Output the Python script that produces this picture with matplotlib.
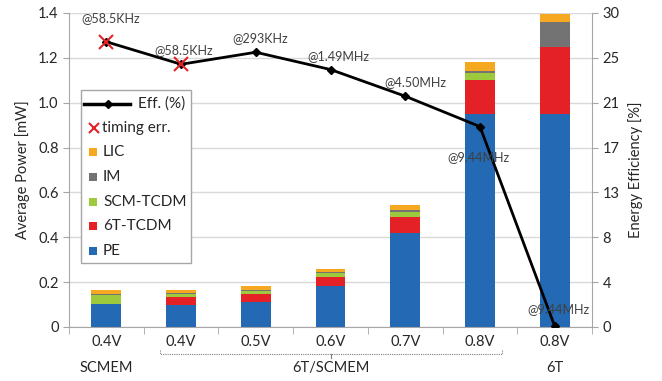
import matplotlib
matplotlib.use("Agg")
import matplotlib.pyplot as plt
import numpy as np
from matplotlib.lines import Line2D
from matplotlib.patches import Rectangle

plt.rcParams['font.family'] = ['Lato', 'DejaVu Sans']

volt_labels = ["0.4V", "0.4V", "0.5V", "0.6V", "0.7V", "0.8V", "0.8V"]
pe = [0.103, 0.100, 0.113, 0.181, 0.418, 0.951, 0.951]
t6_tcdm = [0.0, 0.033, 0.034, 0.042, 0.074, 0.149, 0.299]
scm_tcdm = [0.040, 0.015, 0.015, 0.016, 0.021, 0.033, 0.0]
im = [0.005, 0.004, 0.004, 0.005, 0.009, 0.010, 0.111]
lic = [0.015, 0.012, 0.015, 0.015, 0.022, 0.037, 0.036]
eff = [27.25, 25.1, 26.25, 24.6, 22.05, 19.15, 0.1]
freq_labels = ["@58.5KHz", "@58.5KHz", "@293KHz", "@1.49MHz", "@4.50MHz", "@9.44MHz", "@9.44MHz"]
timing_err_idx = [0, 1]
right_ticks = [0, 4, 8, 13, 17, 21, 25, 30]

colors = {"PE": "#2369B3", "6T-TCDM": "#E32127", "SCM-TCDM": "#9DC93C",
          "IM": "#737373", "LIC": "#F6A821"}
TXT = "#262626"

W, H = 662, 381
fig = plt.figure(figsize=(W / 100, H / 100), dpi=100)
ax = fig.add_axes([69/W, 1-327/H, (592-69)/W, (327-13)/H])
ax2 = ax.twinx()

def fp(px, py):
    return (px / W, 1 - py / H)

x = np.arange(len(pe))
w = 0.4
bottom = np.zeros(len(pe))
for name, vals in [("PE", pe), ("6T-TCDM", t6_tcdm), ("SCM-TCDM", scm_tcdm), ("IM", im), ("LIC", lic)]:
    ax.bar(x, vals, w, bottom=bottom, color=colors[name], zorder=2)
    bottom += np.array(vals)

ax.set_xlim(-0.5, len(pe) - 0.5)
ax.set_ylim(0, 1.4)
ax.set_yticks(np.arange(0, 1.41, 0.2))
ax.set_yticklabels(["0", "0.2", "0.4", "0.6", "0.8", "1.0", "1.2", "1.4"])
ax.yaxis.grid(True, color="#D9D9D9", linewidth=1, zorder=0)
ax.set_axisbelow(True)

ax2.set_ylim(0, 30)
ax2.set_yticks(np.linspace(0, 30, 8))
ax2.set_yticklabels([str(t) for t in right_ticks])

for a in (ax, ax2):
    a.spines['top'].set_visible(False)
    for s in ['left', 'right', 'bottom']:
        a.spines[s].set_color("#A6A6A6")
    a.tick_params(colors="#A6A6A6", labelcolor=TXT, labelsize=10.5, length=4)
ax.spines['right'].set_visible(False)
ax2.spines['left'].set_visible(False)
ax2.spines['bottom'].set_visible(False)

ax.set_xticks(x)
ax.set_xticklabels(volt_labels)
ax.tick_params(axis='x', length=0, pad=6)
ax.set_xticks(np.arange(-0.5, len(pe), 1), minor=True)
ax.tick_params(axis='x', which='minor', length=5, color="#A6A6A6")

ax.set_ylabel("Average Power [mW]", fontsize=10.5, color=TXT, labelpad=6)
ax2.set_ylabel("Energy Efficiency [%]", fontsize=10.5, color=TXT, labelpad=6)

ax2.plot(x, eff, color="black", linewidth=2, marker="D", markersize=4, zorder=5)
ax2.plot([x[i] for i in timing_err_idx], [eff[i] for i in timing_err_idx], linestyle="none",
         marker="x", color="#E32127", markersize=10, markeredgewidth=1.5, zorder=6)

offsets = [(3, 17), (2, 10), (3, 10), (6, 10), (7, 10), (-1, -22), (3, 12)]
for i, lab in enumerate(freq_labels):
    dx, dy = offsets[i]
    ax2.annotate(lab, (x[i], eff[i]), xytext=(dx, dy), textcoords="offset points",
                 ha="center", va="center", fontsize=9, color="#404040", zorder=7)

# second-row labels
trans = ax.get_xaxis_transform()
ax.text(0, -0.131, "SCMEM", transform=trans, ha="center", va="center", fontsize=10.5, color=TXT)
ax.text(3, -0.131, "6T/SCMEM", transform=trans, ha="center", va="center", fontsize=10.5, color=TXT)
ax.text(6, -0.131, "6T", transform=trans, ha="center", va="center", fontsize=10.5, color=TXT)
# dotted brace
yb = -0.085
ax.plot([0.72, 0.72, 5.3, 5.3], [yb + 0.012, yb, yb, yb + 0.012], transform=trans, clip_on=False,
        color="#7F7F7F", linestyle=(0, (1, 1)), linewidth=0.8)
ax.plot([3, 3], [yb, yb - 0.015], transform=trans, clip_on=False, color="#7F7F7F", linewidth=0.8)

# manual legend (Excel style)
x0, y0 = fp(81, 263)
x1, y1 = fp(191, 90)
fig.patches.append(Rectangle((x0, y0), x1 - x0, y1 - y0, transform=fig.transFigure,
                             facecolor="white", edgecolor="#A6A6A6", linewidth=1, zorder=10))
row_y = [104, 128, 152, 177, 202, 226, 251]
leg_labels = ["Eff. (%)", "timing err.", "LIC", "IM", "SCM-TCDM", "6T-TCDM", "PE"]
# line entry
lx0, ly = fp(84, row_y[0])
lx1, _ = fp(130, row_y[0])
fig.lines.append(Line2D([lx0, lx1], [ly, ly], transform=fig.transFigure, color="black", linewidth=2.5, zorder=11))
mx, _ = fp(108, row_y[0])
fig.lines.append(Line2D([mx], [ly], transform=fig.transFigure, color="black", marker="D", markersize=4.5, zorder=12))
fig.text(*fp(138, row_y[0]), leg_labels[0], ha="left", va="center", fontsize=11, color=TXT, zorder=12)
# timing err entry
fig.lines.append(Line2D([fp(94, 0)[0]], [fp(0, row_y[1])[1]], transform=fig.transFigure, color="#E32127",
                        marker="x", markersize=7, markeredgewidth=1.5, linestyle="none", zorder=12))
fig.text(*fp(102, row_y[1]), leg_labels[1], ha="left", va="center", fontsize=11, color=TXT, zorder=12)
# patch entries
patch_cols = [colors["LIC"], colors["IM"], colors["SCM-TCDM"], colors["6T-TCDM"], colors["PE"]]
for k, (lab, c) in enumerate(zip(leg_labels[2:], patch_cols)):
    ry = row_y[k + 2]
    sx, sy = fp(89, ry + 4)
    fig.patches.append(Rectangle((sx, sy), 8 / W, 8 / H, transform=fig.transFigure,
                                 facecolor=c, edgecolor="none", zorder=12))
    fig.text(*fp(103, ry), lab, ha="left", va="center", fontsize=11, color=TXT, zorder=12)

fig.savefig("out.png", dpi=100)
